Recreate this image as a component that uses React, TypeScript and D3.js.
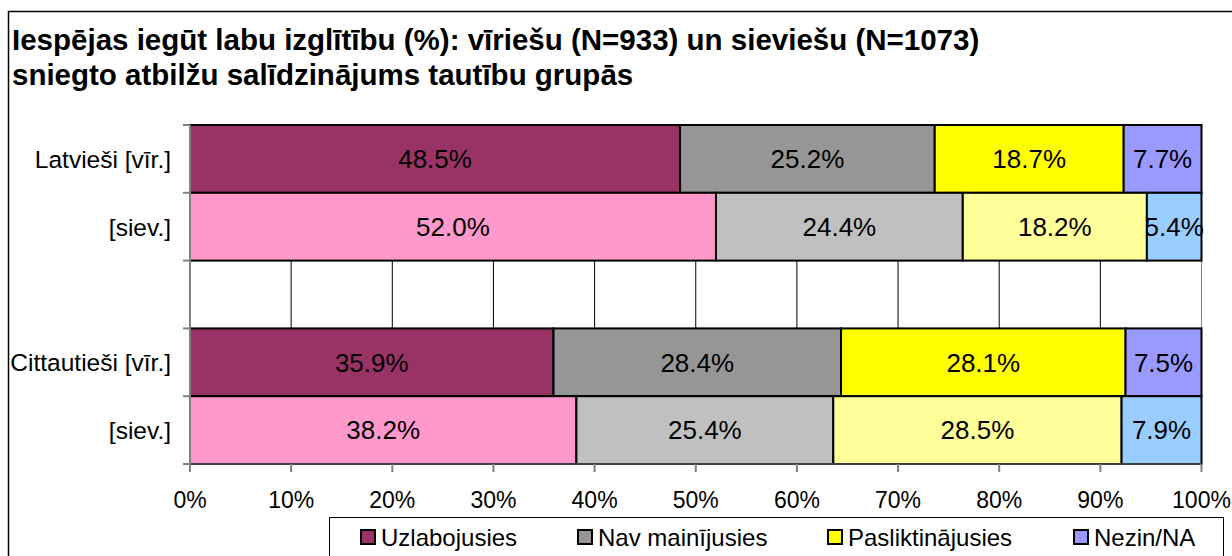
import React from "react";
import * as d3 from "d3";

const title1 = "Iespējas iegūt labu izglītību (%): vīriešu (N=933) un sieviešu (N=1073)";
const title2 = "sniegto atbilžu salīdzinājums tautību grupās";

const seriesNames = ["Uzlabojusies", "Nav mainījusies", "Pasliktinājusies", "Nezin/NA"];
const maleColors = ["#993366", "#969696", "#FFFF00", "#9999FF"];
const femaleColors = ["#FF99CC", "#C0C0C0", "#FFFF99", "#99CCFF"];

const rowIds = ["lv_m", "lv_f", "gap", "ct_m", "ct_f"];
const rowLabels = ["Latvieši [vīr.]", "[siev.]", "", "Cittautieši [vīr.]", "[siev.]"];
const rowGender = ["m", "f", "", "m", "f"];

const lvMale = [48.5, 25.2, 18.7, 7.7];
const lvFemale = [52.0, 24.4, 18.2, 5.4];
const ctMale = [35.9, 28.4, 28.1, 7.5];
const ctFemale = [38.2, 25.4, 28.5, 7.9];
const rowValues: (number[] | null)[] = [lvMale, lvFemale, null, ctMale, ctFemale];

const xTicks = [0, 10, 20, 30, 40, 50, 60, 70, 80, 90, 100];

const FONT = "'Liberation Sans', Arial, sans-serif";

export default function App() {
  const x = d3.scaleLinear().domain([0, 100]).range([190, 1201.5]);
  const y = d3.scaleBand<string>().domain(rowIds).range([125, 464]).padding(0);
  const bw = y.bandwidth();

  const bars: React.ReactNode[] = [];
  const labels: React.ReactNode[] = [];
  rowValues.forEach((vals, ri) => {
    if (!vals) return;
    const total = d3.sum(vals);
    const colors = rowGender[ri] === "m" ? maleColors : femaleColors;
    let acc = 0;
    vals.forEach((v, si) => {
      const x0 = x((acc / total) * 100);
      acc += v;
      const x1 = x((acc / total) * 100);
      const yy = y(rowIds[ri])!;
      bars.push(
        <rect key={`b${ri}-${si}`} x={x0} y={yy} width={x1 - x0} height={bw}
          fill={colors[si]} stroke="#000" strokeWidth={2} />
      );
      labels.push(
        <text key={`l${ri}-${si}`} x={(x0 + x1) / 2} y={yy + bw / 2} dy="0.36em"
          textAnchor="middle" fontSize={26} fontFamily={FONT} fill="#000">
          {v.toFixed(1) + "%"}
        </text>
      );
    });
  });

  const legendX = [360, 577, 827, 1073];

  return (
    <svg width={1232} height={556} style={{ position: "absolute", left: 0, top: 0, background: "#fff" }}>
      <rect x={0} y={0} width={1232} height={556} fill="#fff" />
      <rect x={8.5} y={11.5} width={1240} height={600} fill="#fff" stroke="#000" strokeWidth={1.5} />
      <text x={12} y={50} fontSize={29.5} fontWeight="bold" fontFamily={FONT}>{title1}</text>
      <text x={12} y={85} fontSize={29.5} fontWeight="bold" fontFamily={FONT}>{title2}</text>

      {/* gridlines */}
      {xTicks.slice(1).map((t) => (
        <line key={`g${t}`} x1={x(t)} x2={x(t)} y1={125} y2={464} stroke={t === 100 ? "#808080" : "#000"} strokeWidth={1} />
      ))}

      {bars}

      {/* y axis */}
      <line x1={190} x2={190} y1={125} y2={464} stroke="#808080" strokeWidth={2} />
      {rowIds.map((id) => (
        <line key={`yt${id}`} x1={183} x2={190} y1={y(id)!} y2={y(id)!} stroke="#808080" strokeWidth={2} />
      ))}
      <line x1={183} x2={190} y1={464} y2={464} stroke="#808080" strokeWidth={2} />
      {/* x axis */}
      <line x1={190} x2={1201.5} y1={464} y2={464} stroke="#808080" strokeWidth={1} />
      {xTicks.map((t) => (
        <g key={`xt${t}`}>
          <line x1={x(t)} x2={x(t)} y1={464} y2={472} stroke="#808080" strokeWidth={2} />
          <text x={x(t)} y={508} textAnchor="middle" fontSize={23} fontFamily={FONT}>{t + "%"}</text>
        </g>
      ))}

      {labels}

      {rowIds.map((id, i) => (
        <text key={`yl${id}`} x={171} y={y(id)! + bw / 2} dy="0.36em" textAnchor="end" fontSize={24.5} fontFamily={FONT}>
          {rowLabels[i]}
        </text>
      ))}

      {/* legend */}
      <rect x={329.5} y={517.5} width={894} height={60} fill="#fff" stroke="#000" strokeWidth={1} />
      {seriesNames.map((n, i) => (
        <g key={`lg${i}`}>
          <rect x={legendX[i] + 1} y={530} width={14} height={14} fill={maleColors[i]} stroke="#000" strokeWidth={2} />
          <text x={legendX[i] + 21} y={537} dy="0.36em" fontSize={24} fontFamily={FONT}>{n}</text>
        </g>
      ))}
    </svg>
  );
}
